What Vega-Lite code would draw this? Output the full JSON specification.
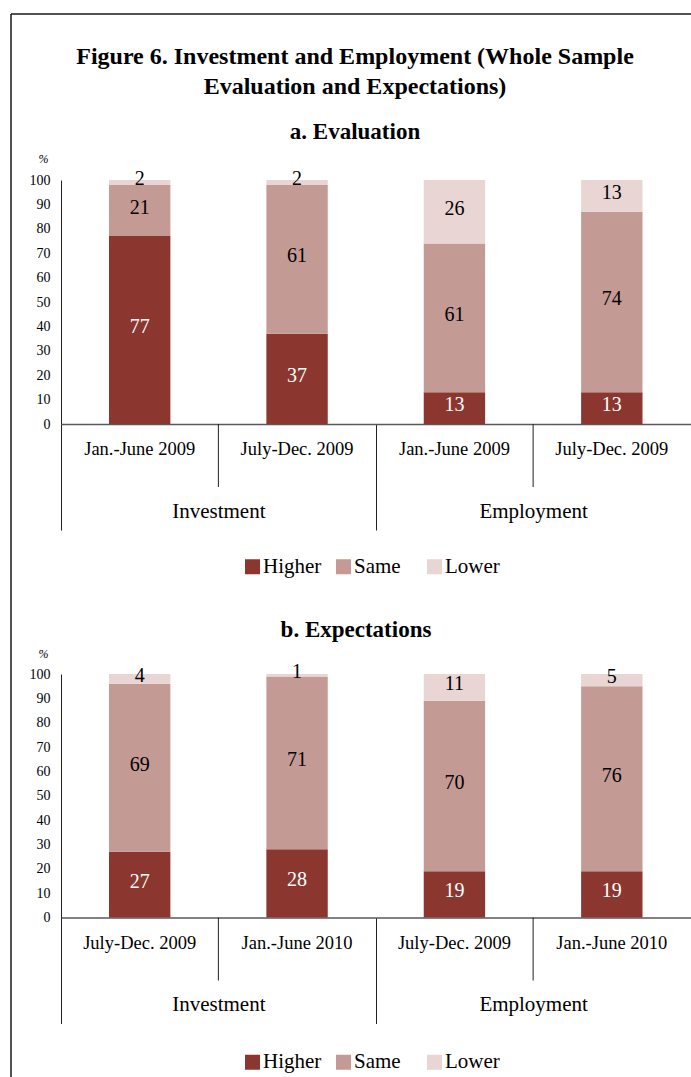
{
  "$schema": "https://vega.github.io/schema/vega-lite/v6.json",
  "padding": {"left": 10, "top": 13, "right": 0, "bottom": 0},
  "background": "white",
  "spacing": 0,
  "bounds": "flush",
  "datasets": {
    "evaluation": [
      {"group": "Investment", "period": "Jan.-June 2009", "category": "Higher", "value": 77},
      {"group": "Investment", "period": "Jan.-June 2009", "category": "Same", "value": 21},
      {"group": "Investment", "period": "Jan.-June 2009", "category": "Lower", "value": 2},
      {"group": "Investment", "period": "July-Dec. 2009", "category": "Higher", "value": 37},
      {"group": "Investment", "period": "July-Dec. 2009", "category": "Same", "value": 61},
      {"group": "Investment", "period": "July-Dec. 2009", "category": "Lower", "value": 2},
      {"group": "Employment", "period": "Jan.-June 2009", "category": "Higher", "value": 13},
      {"group": "Employment", "period": "Jan.-June 2009", "category": "Same", "value": 61},
      {"group": "Employment", "period": "Jan.-June 2009", "category": "Lower", "value": 26},
      {"group": "Employment", "period": "July-Dec. 2009", "category": "Higher", "value": 13},
      {"group": "Employment", "period": "July-Dec. 2009", "category": "Same", "value": 74},
      {"group": "Employment", "period": "July-Dec. 2009", "category": "Lower", "value": 13}
    ],
    "expectations": [
      {"group": "Investment", "period": "July-Dec. 2009", "category": "Higher", "value": 27},
      {"group": "Investment", "period": "July-Dec. 2009", "category": "Same", "value": 69},
      {"group": "Investment", "period": "July-Dec. 2009", "category": "Lower", "value": 4},
      {"group": "Investment", "period": "Jan.-June 2010", "category": "Higher", "value": 28},
      {"group": "Investment", "period": "Jan.-June 2010", "category": "Same", "value": 71},
      {"group": "Investment", "period": "Jan.-June 2010", "category": "Lower", "value": 1},
      {"group": "Employment", "period": "July-Dec. 2009", "category": "Higher", "value": 19},
      {"group": "Employment", "period": "July-Dec. 2009", "category": "Same", "value": 70},
      {"group": "Employment", "period": "July-Dec. 2009", "category": "Lower", "value": 11},
      {"group": "Employment", "period": "Jan.-June 2010", "category": "Higher", "value": 19},
      {"group": "Employment", "period": "Jan.-June 2010", "category": "Same", "value": 76},
      {"group": "Employment", "period": "Jan.-June 2010", "category": "Lower", "value": 5}
    ]
  },
  "vconcat": [
    {
      "width": 680,
      "height": 587,
      "view": {"stroke": "#1a1a1a", "strokeWidth": 1.5, "strokeDash": [680, 1267, 587, 0]},
      "title": {
        "text": ["Figure 6. Investment and Employment (Whole Sample", "Evaluation and Expectations)"],
        "subtitle": "a. Evaluation",
        "font": "Liberation Serif",
        "fontSize": 24,
        "fontWeight": "bold",
        "lineHeight": 30,
        "color": "black",
        "subtitleFont": "Liberation Serif",
        "subtitleFontSize": 23,
        "subtitleFontWeight": "bold",
        "subtitleColor": "black",
        "subtitlePadding": 22,
        "anchor": "middle",
        "frame": "group",
        "offset": -130,
        "dx": 4
      },
      "data": {"name": "evaluation"},
      "transform": [{"calculate": "indexof(['Higher','Same','Lower'], datum.category)", "as": "ord"}],
      "encoding": {
        "x": {
          "field": "group", "type": "nominal", "sort": ["Investment", "Employment"],
          "scale": {"type": "band", "range": [50, 679.5], "paddingInner": 0, "paddingOuter": 0},
          "axis": {
            "title": null, "orient": "bottom", "offset": -177,
            "domainColor": "#595959", "domainWidth": 1.5,
            "tickBand": "extent", "tickSize": 106, "tickColor": "#222222", "tickWidth": 1,
            "labelFont": "Liberation Serif", "labelFontSize": 21, "labelColor": "black", "labelPadding": -19,
            "labelBaseline": "middle", "labelAngle": 0, "grid": false
          }
        }
      },
      "layer": [
        {
          "mark": {"type": "bar"},
          "encoding": {
            "xOffset": {"field": "period", "type": "nominal", "sort": ["Jan.-June 2009", "July-Dec. 2009"], "scale": {"paddingInner": 0.61, "paddingOuter": 0.305}},
            "y": {
              "field": "value", "type": "quantitative", "stack": "zero",
              "scale": {"domain": [0, 100], "range": [410, 166], "nice": false},
              "axis": {
                "orient": "left", "offset": -50, "values": [0, 10, 20, 30, 40, 50, 60, 70, 80, 90, 100],
                "ticks": false, "domainColor": "#222222", "domainWidth": 1, "grid": false,
                "labelFont": "Liberation Serif", "labelFontSize": 14, "labelColor": "black", "labelPadding": 11,
                "title": "%", "titleAngle": 0, "titleX": -18, "titleY": 144, "titleFont": "Liberation Serif", "titleFontSize": 12,
                "titleFontWeight": "normal", "titleFontStyle": "italic", "titleAlign": "center", "titleBaseline": "middle", "titleColor": "black"
              }
            },
            "color": {
              "field": "category", "type": "nominal",
              "scale": {"domain": ["Higher", "Same", "Lower"], "range": ["#8B372F", "#C49A95", "#E9D5D3"]},
              "legend": {
                "orient": "none", "legendX": 231, "legendY": 542, "direction": "horizontal", "title": null,
                "symbolType": "square", "symbolSize": 225, "symbolStrokeWidth": 0,
                "labelFont": "Liberation Serif", "labelFontSize": 21, "labelColor": "black", "labelOffset": 0,
                "columnPadding": 11, "gridAlign": "all", "padding": 0
              }
            },
            "order": {"field": "ord", "type": "quantitative"}
          }
        },
        {
          "mark": {"type": "text", "font": "Liberation Serif", "fontSize": 20, "baseline": "middle", "dy": -3},
          "encoding": {
            "xOffset": {"field": "period", "type": "nominal", "sort": ["Jan.-June 2009", "July-Dec. 2009"]},
            "y": {"field": "value", "type": "quantitative", "stack": "zero", "bandPosition": 0.5},
            "detail": {"field": "category"},
            "order": {"field": "ord", "type": "quantitative"},
            "text": {"field": "value"},
            "color": {"condition": {"test": "datum.category === 'Higher'", "value": "white"}, "value": "black"}
          }
        },
        {
          "transform": [{"filter": "datum.category === 'Higher'"}],
          "mark": {"type": "text", "font": "Liberation Serif", "fontSize": 18.5, "baseline": "middle", "dy": 25, "color": "black"},
          "encoding": {
            "xOffset": {"field": "period", "type": "nominal", "sort": ["Jan.-June 2009", "July-Dec. 2009"]},
            "y": {"datum": 0},
            "text": {"field": "period"}
          }
        },
        {
          "transform": [{"filter": "datum.category === 'Higher' && datum.period === 'Jan.-June 2009'"}],
          "mark": {"type": "rule", "color": "#222222", "strokeWidth": 1, "y2Offset": 63},
          "encoding": {
            "y": {"datum": 0},
            "y2": {"datum": 0}
          }
        }
      ]
    },
    {
      "width": 680,
      "height": 477,
      "view": {"stroke": "#1a1a1a", "strokeWidth": 1.5, "strokeDash": [0, 1837, 477, 0]},
      "title": {
        "text": "b. Expectations",
        "font": "Liberation Serif",
        "fontSize": 23,
        "fontWeight": "bold",
        "color": "black",
        "anchor": "middle",
        "frame": "group",
        "offset": -41,
        "dx": 5
      },
      "data": {"name": "expectations"},
      "transform": [{"calculate": "indexof(['Higher','Same','Lower'], datum.category)", "as": "ord"}],
      "encoding": {
        "x": {
          "field": "group", "type": "nominal", "sort": ["Investment", "Employment"],
          "scale": {"type": "band", "range": [50, 679.5], "paddingInner": 0, "paddingOuter": 0},
          "axis": {
            "title": null, "orient": "bottom", "offset": -160.5,
            "domainColor": "#595959", "domainWidth": 1.5,
            "tickBand": "extent", "tickSize": 106, "tickColor": "#222222", "tickWidth": 1,
            "labelFont": "Liberation Serif", "labelFontSize": 21, "labelColor": "black", "labelPadding": -19,
            "labelBaseline": "middle", "labelAngle": 0, "grid": false
          }
        }
      },
      "layer": [
        {
          "mark": {"type": "bar"},
          "encoding": {
            "xOffset": {"field": "period", "type": "nominal", "sort": ["July-Dec. 2009", "Jan.-June 2010"], "scale": {"paddingInner": 0.61, "paddingOuter": 0.305}},
            "y": {
              "field": "value", "type": "quantitative", "stack": "zero",
              "scale": {"domain": [0, 100], "range": [316.5, 73], "nice": false},
              "axis": {
                "orient": "left", "offset": -50, "values": [0, 10, 20, 30, 40, 50, 60, 70, 80, 90, 100],
                "ticks": false, "domainColor": "#222222", "domainWidth": 1, "grid": false,
                "labelFont": "Liberation Serif", "labelFontSize": 14, "labelColor": "black", "labelPadding": 11,
                "title": "%", "titleAngle": 0, "titleX": -18, "titleY": 52, "titleFont": "Liberation Serif", "titleFontSize": 12,
                "titleFontWeight": "normal", "titleFontStyle": "italic", "titleAlign": "center", "titleBaseline": "middle", "titleColor": "black"
              }
            },
            "color": {
              "field": "category", "type": "nominal",
              "scale": {"domain": ["Higher", "Same", "Lower"], "range": ["#8B372F", "#C49A95", "#E9D5D3"]},
              "legend": {
                "orient": "none", "legendX": 231, "legendY": 450.5, "direction": "horizontal", "title": null,
                "symbolType": "square", "symbolSize": 225, "symbolStrokeWidth": 0,
                "labelFont": "Liberation Serif", "labelFontSize": 21, "labelColor": "black", "labelOffset": 0,
                "columnPadding": 11, "gridAlign": "all", "padding": 0
              }
            },
            "order": {"field": "ord", "type": "quantitative"}
          }
        },
        {
          "mark": {"type": "text", "font": "Liberation Serif", "fontSize": 20, "baseline": "middle", "dy": -3},
          "encoding": {
            "xOffset": {"field": "period", "type": "nominal", "sort": ["July-Dec. 2009", "Jan.-June 2010"]},
            "y": {"field": "value", "type": "quantitative", "stack": "zero", "bandPosition": 0.5},
            "detail": {"field": "category"},
            "order": {"field": "ord", "type": "quantitative"},
            "text": {"field": "value"},
            "color": {"condition": {"test": "datum.category === 'Higher'", "value": "white"}, "value": "black"}
          }
        },
        {
          "transform": [{"filter": "datum.category === 'Higher'"}],
          "mark": {"type": "text", "font": "Liberation Serif", "fontSize": 18.5, "baseline": "middle", "dy": 25, "color": "black"},
          "encoding": {
            "xOffset": {"field": "period", "type": "nominal", "sort": ["July-Dec. 2009", "Jan.-June 2010"]},
            "y": {"datum": 0},
            "text": {"field": "period"}
          }
        },
        {
          "transform": [{"filter": "datum.category === 'Higher' && datum.period === 'July-Dec. 2009'"}],
          "mark": {"type": "rule", "color": "#222222", "strokeWidth": 1, "y2Offset": 63},
          "encoding": {
            "y": {"datum": 0},
            "y2": {"datum": 0}
          }
        }
      ]
    }
  ],
  "resolve": {
    "scale": {"x": "independent", "y": "independent", "xOffset": "independent", "color": "independent"},
    "legend": {"color": "independent"}
  },
  "config": {
    "font": "Liberation Serif",
    "view": {"stroke": null},
    "axis": {"labelColor": "black", "labelFont": "Liberation Serif"},
    "legend": {"labelColor": "black", "labelFont": "Liberation Serif"},
    "text": {"font": "Liberation Serif"}
  }
}
